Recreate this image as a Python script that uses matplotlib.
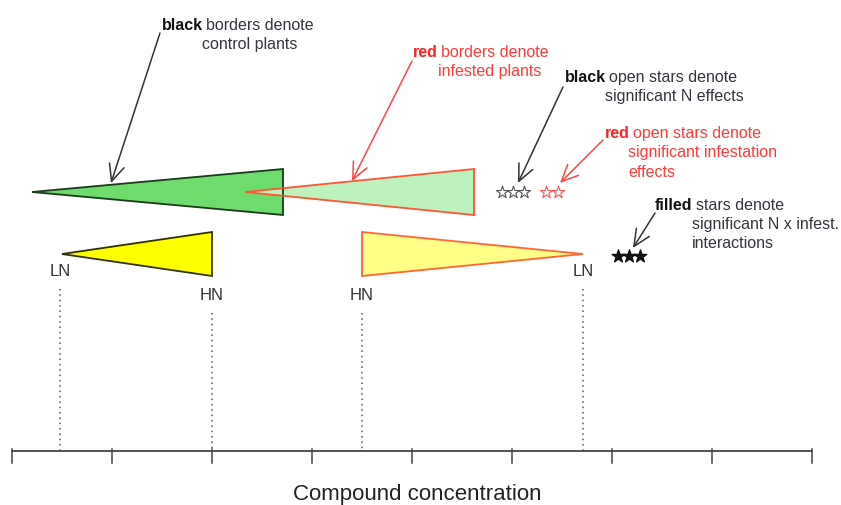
import matplotlib
matplotlib.use("Agg")
import matplotlib.pyplot as plt
from matplotlib.patches import Polygon

plt.rcParams['font.family'] = ['Liberation Sans', 'DejaVu Sans']

# Concentration axis (tick positions, arbitrary units)
ticks = [0, 1, 2, 3, 4, 5, 6, 7, 8]

# Triangles: (tip x, base x, centre y, half height)
tri_tip = [0.20, 2.33, 0.50, 5.71]
tri_base = [2.71, 4.62, 2.00, 3.50]
tri_y = [193, 193, 255, 255]
tri_half = [23, 23, 22, 22]
tri_face = ['#6ddc6d', '#bdf2bd', '#ffff00', '#ffff88']
tri_edge = ['#1a3a1a', '#ff5533', '#333300', '#ff6633']

# N level labels below triangles
lab_text = ['LN', 'HN', 'HN', 'LN']
lab_x = [0.48, 2.00, 3.50, 5.71]
lab_y = [272, 296, 296, 272]
drop_top = [290, 314, 314, 290]

# stars
open_black_x = [4.90, 5.01, 5.12]
open_red_x = [5.34, 5.46]
filled_x = [6.06, 6.17, 6.28]
star_y_open = 193
star_y_filled = 257

AXIS_Y = 452

fig = plt.figure(figsize=(8.41, 5.06), dpi=100)
ax = fig.add_axes([0, 0, 1, 1])
ax.set_xlim(-0.12, 8.29)
ax.set_ylim(506, 0)
ax.axis('off')

# Triangles: fills first, then outlines so both borders show in the overlap
polys = []
for tip, base, yc, h in zip(tri_tip, tri_base, tri_y, tri_half):
    polys.append([(tip, yc), (base, yc - h), (base, yc + h)])
for p, fc in zip(polys, tri_face):
    ax.add_patch(Polygon(p, closed=True, facecolor=fc, edgecolor='none', zorder=2))
for p, ec in zip(polys, tri_edge):
    ax.add_patch(Polygon(p, closed=True, facecolor='none', edgecolor=ec, lw=1.3, zorder=3))

# LN / HN labels and dotted drop lines
for t, x, y, top in zip(lab_text, lab_x, lab_y, drop_top):
    ax.text(x, y, t, ha='center', va='center', fontsize=12, color='#333333')
    ax.plot([x, x], [top, AXIS_Y], ls=(0, (1, 2.5)), color='#555555', lw=1.1, zorder=1)

# axis
ax.plot([ticks[0], ticks[-1]], [AXIS_Y, AXIS_Y], color='#444444', lw=1.3)
for t in ticks:
    ax.plot([t, t], [AXIS_Y - 2, AXIS_Y + 12], color='#444444', lw=1.1)
ax.text(4.05, 495, 'Compound concentration', ha='center', va='center',
        fontsize=16, color='#222222')

# stars
ax.scatter(open_black_x, [star_y_open] * len(open_black_x), marker='*', s=85,
           facecolors='white', edgecolors='#555555', linewidths=0.8, zorder=4)
ax.scatter(open_red_x, [star_y_open] * len(open_red_x), marker='*', s=85,
           facecolors='white', edgecolors='#ff5555', linewidths=0.8, zorder=4)
ax.scatter(filled_x, [star_y_filled] * len(filled_x), marker='*', s=90,
           color='#111111', zorder=4)

fig.canvas.draw()
renderer = fig.canvas.get_renderer()


def note(x, y, bold, rest, more, indent, color, boldcolor):
    tb = ax.text(x, y, bold, fontsize=11.5, fontweight='bold', color=boldcolor,
                 va='center', ha='left')
    bb = tb.get_window_extent(renderer)
    x1 = ax.transData.inverted().transform((bb.x1 + 3, bb.y0))[0]
    ax.text(x1, y, rest, fontsize=11.5, color=color, va='center', ha='left')
    for i, line in enumerate(more):
        ax.text(indent, y + 19.5 * (i + 1), line, fontsize=11.5, color=color,
                va='center', ha='left')


black = '#353540'
red = '#ff3b3b'
note(1.50, 25, 'black', 'borders denote', ['control plants'], 1.90, black, '#111111')
note(4.01, 52, 'red', 'borders denote', ['infested plants'], 4.26, red, '#ff2222')
note(5.53, 77, 'black', 'open stars denote', ['significant N effects'], 5.93, black, '#111111')
note(5.93, 133, 'red', 'open stars denote', ['significant infestation', 'effects'], 6.16, red, '#ff2222')
note(6.43, 205, 'filled', 'stars denote', ['significant N x infest.', 'interactions'], 6.80, black, '#111111')

# arrows
arrows = [((1.48, 34), (0.99, 184), '#333333'),
          ((4.00, 62), (3.40, 182), '#ff4444'),
          ((5.51, 88), (5.06, 184), '#333333'),
          ((5.91, 141), (5.48, 184), '#ff4444'),
          ((6.43, 214), (6.21, 249), '#333333')]
for (x0, y0), (x1, y1), c in arrows:
    ax.annotate('', xy=(x1, y1), xytext=(x0, y0),
                arrowprops=dict(arrowstyle='->,head_length=1.2,head_width=0.55',
                                color=c, lw=1.1, shrinkA=0, shrinkB=0))

fig.savefig('out.png', dpi=100)
